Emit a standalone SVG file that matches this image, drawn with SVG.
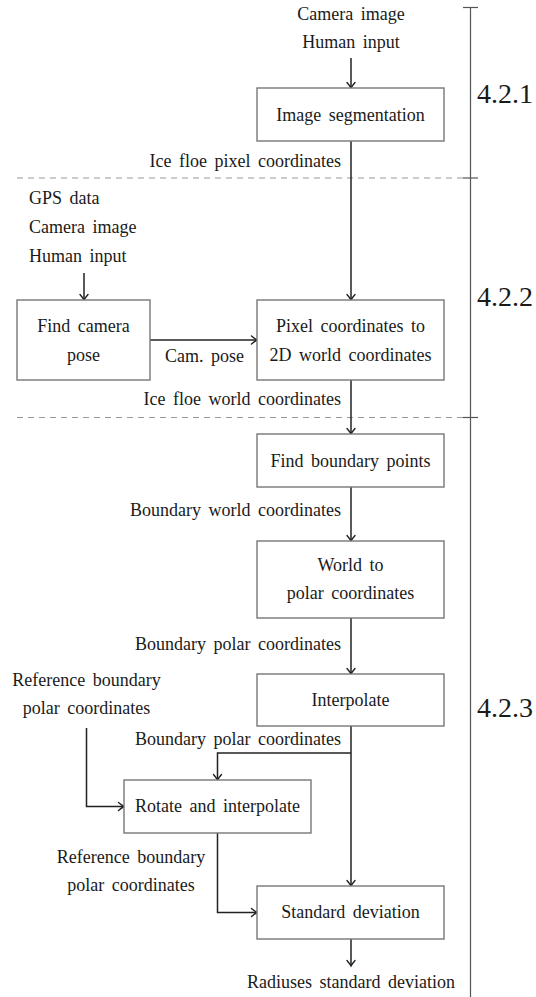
<svg xmlns="http://www.w3.org/2000/svg" width="536" height="997" viewBox="0 0 536 997" font-family="'Liberation Serif', 'DejaVu Serif', serif">
<style>
text{font-family:'Liberation Serif','DejaVu Serif',serif;font-size:18px;fill:#1a1a1a;word-spacing:3px}
.c{text-anchor:middle}
.e{text-anchor:end}
.sec{font-size:28px;word-spacing:0}
.box{fill:#fff;stroke:#777;stroke-width:1.4}
.ln{fill:none;stroke:#222;stroke-width:1.5}
.dash{stroke:#999;stroke-width:1.2;stroke-dasharray:6 5;fill:none}
.scale{stroke:#555;stroke-width:1.2;fill:none}
</style>
<defs>
<marker id="ah" markerUnits="userSpaceOnUse" viewBox="-7 -5 8 10" refX="0" refY="0" markerWidth="8" markerHeight="10" orient="auto" overflow="visible">
<path d="M-5.5,-4 Q-2,-1 0,0 Q-2,1 -5.5,4" fill="none" stroke="#222" stroke-width="1.4" stroke-linecap="round"/>
</marker>
</defs>
<g id="separators">
<line class="dash" x1="17" y1="178" x2="468" y2="178"/>
<line class="dash" x1="17" y1="417.5" x2="468" y2="417.5"/>
</g>
<g id="scale">
<line class="scale" x1="470.5" y1="7.5" x2="470.5" y2="997"/>
<line class="scale" x1="463" y1="7.5" x2="478" y2="7.5"/>
<line class="scale" x1="463" y1="178" x2="478" y2="178"/>
<line class="scale" x1="463" y1="417.5" x2="478" y2="417.5"/>
<text class="sec" x="477" y="103">4.2.1</text>
<text class="sec" x="477" y="306">4.2.2</text>
<text class="sec" x="477" y="717">4.2.3</text>
</g>
<g id="connectors">
<line class="ln" x1="351" y1="58" x2="351" y2="88" marker-end="url(#ah)"/>
<line class="ln" x1="351" y1="141" x2="351" y2="300" marker-end="url(#ah)"/>
<line class="ln" x1="84" y1="273" x2="84" y2="300" marker-end="url(#ah)"/>
<line class="ln" x1="150" y1="340" x2="257" y2="340" marker-end="url(#ah)"/>
<line class="ln" x1="351" y1="380" x2="351" y2="434" marker-end="url(#ah)"/>
<line class="ln" x1="351" y1="487" x2="351" y2="541" marker-end="url(#ah)"/>
<line class="ln" x1="351" y1="618" x2="351" y2="674" marker-end="url(#ah)"/>
<line class="ln" x1="351" y1="726" x2="351" y2="886" marker-end="url(#ah)"/>
<path class="ln" d="M351,753 H217.5 V780" marker-end="url(#ah)"/>
<path class="ln" d="M86.5,728 V806.5 H124" marker-end="url(#ah)"/>
<path class="ln" d="M217.5,833 V912.5 H257" marker-end="url(#ah)"/>
<line class="ln" x1="351" y1="939" x2="351" y2="966" marker-end="url(#ah)"/>
</g>
<g id="inputs-top">
<text class="c" x="351" y="20">Camera image</text>
<text class="c" x="351" y="48">Human input</text>
</g>
<g id="image-segmentation">
<rect class="box" x="257" y="88" width="187" height="53"/>
<text class="c" x="350.5" y="120.5">Image segmentation</text>
</g>
<g id="label-ice-pixel"><text class="e" x="341" y="167">Ice floe pixel coordinates</text></g>
<g id="inputs-pose">
<text x="29" y="204">GPS data</text>
<text x="29" y="233">Camera image</text>
<text x="29" y="262">Human input</text>
</g>
<g id="find-camera-pose">
<rect class="box" x="17" y="300" width="133" height="80"/>
<text class="c" x="83.5" y="332">Find camera</text>
<text class="c" x="83.5" y="361">pose</text>
</g>
<g id="label-cam-pose"><text class="e" x="244" y="362">Cam. pose</text></g>
<g id="pixel-to-world">
<rect class="box" x="257" y="300" width="187" height="80"/>
<text class="c" x="350.5" y="332">Pixel coordinates to</text>
<text class="c" x="350.5" y="361">2D world coordinates</text>
</g>
<g id="label-ice-world"><text class="e" x="341" y="405">Ice floe world coordinates</text></g>
<g id="find-boundary-points">
<rect class="box" x="257" y="434" width="187" height="53"/>
<text class="c" x="350.5" y="466.5">Find boundary points</text>
</g>
<g id="label-boundary-world"><text class="e" x="341" y="516">Boundary world coordinates</text></g>
<g id="world-to-polar">
<rect class="box" x="257" y="541" width="187" height="77"/>
<text class="c" x="350.5" y="571">World to</text>
<text class="c" x="350.5" y="599">polar coordinates</text>
</g>
<g id="label-boundary-polar-1"><text class="e" x="341" y="650">Boundary polar coordinates</text></g>
<g id="interpolate">
<rect class="box" x="257" y="674" width="187" height="52"/>
<text class="c" x="350.5" y="706">Interpolate</text>
</g>
<g id="input-reference">
<text class="c" x="86.5" y="686">Reference boundary</text>
<text class="c" x="86.5" y="714">polar coordinates</text>
</g>
<g id="label-boundary-polar-2"><text class="e" x="341" y="745">Boundary polar coordinates</text></g>
<g id="rotate-and-interpolate">
<rect class="box" x="124" y="780" width="187" height="53"/>
<text class="c" x="217.5" y="812">Rotate and interpolate</text>
</g>
<g id="label-reference-2">
<text class="c" x="131" y="863">Reference boundary</text>
<text class="c" x="131" y="891">polar coordinates</text>
</g>
<g id="standard-deviation">
<rect class="box" x="257" y="886" width="187" height="53"/>
<text class="c" x="350.5" y="918">Standard deviation</text>
</g>
<g id="output"><text class="c" x="351" y="988">Radiuses standard deviation</text></g>
</svg>
